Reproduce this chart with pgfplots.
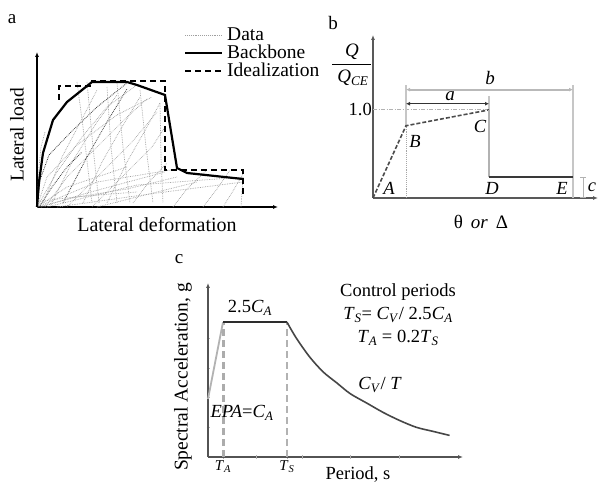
\documentclass[border=0pt]{standalone}
\usepackage{pgfplots}
\pgfplotsset{compat=1.18}
\usepackage{fontspec}
\setmainfont{Liberation Serif}
\usetikzlibrary{arrows.meta}

\newcommand{\fs}[1]{\fontsize{#1}{#1}\selectfont}
\newcommand{\sub}[1]{\textsubscript{\textit{#1}}}

\pgfplotsset{
  every axis/.append style={scale only axis, anchor=south west, clip=false,
    xtick=\empty, ytick=\empty, axis x line=bottom, axis y line=left},
  hyst/.style={gray!75, line width=0.7pt, densely dotted},
  hystdark/.style={gray!45!black, line width=0.8pt, densely dotted},
}

\begin{document}
\begin{tikzpicture}[x=1pt,y=1pt]
\path (0,0) rectangle (600,485);
\begin{pgfinterruptboundingbox}

% ---------------- (a) hysteresis data, backbone and idealization ----------
\begin{axis}[at={(37pt,278pt)}, width=241pt, height=155pt,
  xmin=0, xmax=241, ymin=0, ymax=155,
  axis line style={black, line width=1.4pt, -{Latex[length=5pt,width=4pt]}}]
% cyclic test loops
\addplot[hystdark] coordinates {(0,0) (3,27) (12,52) (33,74) (60,100) (90,124)};
\addplot[hyst] coordinates {(0,0) (10,30) (40,62) (80,92) (115,110)};
\addplot[hyst] coordinates {(0,0) (20,35) (45,70) (70,100) (100,122)};
\addplot[hyst] coordinates {(8,0) (30,30) (60,60) (90,90) (110,108)};
\addplot[hyst] coordinates {(30,0) (60,30) (95,65) (120,95)};
\addplot[hyst] coordinates {(55,0) (85,30) (115,60) (128,80)};
\addplot[hyst] coordinates {(6,4) (25,50) (45,88) (60,117)};
\addplot[hyst] coordinates {(14,2) (35,45) (60,85) (80,112)};
\addplot[hystdark] coordinates {(26,4) (50,50) (70,85) (90,118)};
\addplot[hyst] coordinates {(46,4) (65,45) (85,80) (103,110)};
\addplot[hyst] coordinates {(70,4) (90,45) (110,80) (123,104)};
\addplot[hyst] coordinates {(96,4) (112,25) (130,44)};
\addplot[hyst] coordinates {(70,120) (74,60) (80,4)};
\addplot[hyst] coordinates {(80,124) (86,60) (93,4)};
\addplot[hyst] coordinates {(103,117) (109,60) (116,4)};
\addplot[hyst] coordinates {(123,104) (124,50) (126,4)};
\addplot[hyst] coordinates {(40,125) (46,80) (55,4)};
\addplot[hyst] coordinates {(50,125) (56,60) (62,4)};
\addplot[hyst] coordinates {(0,0) (60,25) (140,38)};
\addplot[hyst] coordinates {(10,0) (100,22) (206,30)};
\addplot[hyst] coordinates {(20,0) (120,14) (206,25)};
\addplot[hyst] coordinates {(4,0) (50,14) (128,35)};
\addplot[hyst] coordinates {(0,0) (30,20) (90,40)};
\addplot[hyst] coordinates {(0,0) (40,10) (90,18) (140,30)};
\addplot[hyst] coordinates {(0,5) (20,8) (60,12) (100,15)};
\addplot[hyst] coordinates {(60,0) (100,10) (160,25)};
\addplot[hyst] coordinates {(136,0) (150,18) (170,37)};
\addplot[hyst] coordinates {(166,0) (180,18) (193,37)};
\addplot[hyst] coordinates {(186,0) (196,16) (206,33)};
\addplot[hyst] coordinates {(204,0) (205,15) (206,30)};
\addplot[hyst] coordinates {(0,0) (2,40) (4,60) (8,75)};
\addplot[hystdark] coordinates {(2,0) (15,20) (30,40) (45,55)};
% envelope of the loops
\addplot[black, line width=2.2pt] coordinates {
  (0,0) (2,25) (6,54) (16,87) (30,105) (55,125) (90,125) (100,122)
  (128,112) (140,39) (150,34) (206,28)};
% idealized multilinear curve
\addplot[black, line width=2pt, dash pattern=on 6pt off 4pt] coordinates {
  (22,107) (22,121) (55,121) (55,126) (128,126) (128,37) (206,37) (206,10)};
\end{axis}

\node[font=\fs{19}] at (12,466) {a};
\node[font=\fs{19.5}, rotate=90] at (17,350) {Lateral load};
\node[font=\fs{20}] at (157,260) {Lateral deformation};
% legend
\draw[gray!75, line width=0.9pt, densely dotted] (185,450) -- (222,450);
\draw[black, line width=2.2pt] (185,432) -- (222,432);
\draw[black, line width=2pt, dash pattern=on 6pt off 4pt] (185,414) -- (222,414);
\node[font=\fs{19.5}, anchor=west, inner sep=0pt] at (227,451) {Data};
\node[font=\fs{19.5}, anchor=west, inner sep=0pt] at (227,433) {Backbone};
\node[font=\fs{19.5}, anchor=west, inner sep=0pt] at (227,415) {Idealization};

% ---------------- (b) generalized force-deformation relation -------------
\begin{axis}[at={(373pt,287pt)}, width=225pt, height=163pt,
  xmin=0, xmax=2.25, ymin=0, ymax=1.85,
  axis line style={gray!70!black, line width=1.4pt, -{Latex[length=5pt,width=4pt]}}]
% guide lines
\addplot[gray!60, line width=0.8pt, dash pattern=on 4pt off 1.5pt on 1pt off 1.5pt]
  coordinates {(0,1.0) (1.16,1.0)};
\addplot[gray!70, line width=0.9pt, densely dotted] coordinates {(0.33,0) (0.33,0.82)};
\addplot[gray!45, line width=1.2pt] coordinates {(0.33,0.82) (0.33,1.28)};
\addplot[gray!45, line width=1.2pt] coordinates {(1.16,1.0) (1.16,1.16)};
\addplot[gray!45, line width=1.2pt] coordinates {(2.0,0) (2.0,1.28)};
% dimension arrows a and b
\addplot[gray!55, line width=1.8pt, {Latex[length=4pt,width=4pt]}-{Latex[length=4pt,width=4pt]}]
  coordinates {(0.33,1.23) (2.0,1.23)};
\addplot[gray!40!black, line width=1.4pt, {Latex[length=4pt,width=4pt]}-{Latex[length=4pt,width=4pt]}]
  coordinates {(0.33,1.07) (1.16,1.07)};
\addplot[gray!60, line width=0.8pt, |-|] coordinates {(2.1,0) (2.1,0.24)};
% backbone A-B-C-D-E
\addplot[gray!60!black, line width=1.6pt, dash pattern=on 4pt off 2pt]
  coordinates {(0,0) (0.33,0.82) (1.16,1.0)};
\addplot[gray!60, line width=2.5pt] coordinates {(1.16,1.0) (1.16,0.24)};
\addplot[gray!45!black, line width=1.4pt] coordinates {(1.16,0.24) (2.0,0.24)};
\node[font=\fs{18.5}, anchor=east, inner sep=1pt] at (axis cs:0,1.0) {1.0};
\node[font=\fs{19}\itshape] at (axis cs:1.17,1.36) {b};
\node[font=\fs{19}\itshape] at (axis cs:0.77,1.16) {a};
\node[font=\fs{18.5}\itshape] at (axis cs:1.07,0.81) {C};
\node[font=\fs{18.5}\itshape] at (axis cs:0.42,0.64) {B};
\node[font=\fs{18.5}\itshape] at (axis cs:0.16,0.11) {A};
\node[font=\fs{18.5}\itshape] at (axis cs:1.19,0.11) {D};
\node[font=\fs{18.5}\itshape] at (axis cs:1.89,0.11) {E};
\node[font=\fs{18.5}\itshape, inner sep=0pt] at (axis cs:2.19,0.12) {c};
\end{axis}

\node[font=\fs{19}] at (333,462) {b};
\node[font=\fs{19}\itshape] at (352,433) {Q};
\draw[black, line width=0.8pt] (332,421) -- (371,421);
\node[font=\fs{19}] at (353,407) {\textit{Q}\sub{CE}};
\node[font=\fs{19}] at (481,263) {θ\, \textit{or}\, Δ};

% ---------------- (c) design response spectrum ---------------------------
\begin{axis}[at={(208pt,28pt)}, width=255pt, height=174pt,
  xmin=0, xmax=3.23, ymin=0, ymax=1.29,
  axis line style={gray!65!black, line width=1.3pt, -{Latex[length=5pt,width=4pt]}},
  xtick={0.19,1}, xticklabels={\textit{T}\sub{A}, \textit{T}\sub{S}},
  extra x ticks={0.61,1.2,1.81,2.43}, extra x tick labels={},
  ytick={0.22,0.44,0.66,0.88}, yticklabels={},
  tick align=center, major tick length=3pt,
  every tick/.style={gray!60, line width=0.8pt},
  xticklabel style={font=\fs{15}, inner sep=2pt}]
% corner periods
\addplot[gray!65, line width=3pt, dash pattern=on 7pt off 4pt] coordinates {(0.19,0) (0.19,1.0)};
\addplot[gray!60, line width=1.4pt, dash pattern=on 7pt off 4pt] coordinates {(1.0,0) (1.0,1.0)};
% spectrum branches
\addplot[gray!60, line width=1.8pt] coordinates {(0,0.43) (0.19,1.0)};
\addplot[gray!35!black, line width=1.6pt] coordinates {(0.19,1.0) (1.0,1.0)};
\addplot[gray!55!black, line width=1.6pt, smooth] coordinates {
  (1.0,1.0) (1.12,0.88) (1.29,0.74) (1.46,0.63) (1.63,0.55) (1.80,0.47)
  (2.01,0.40) (2.22,0.33) (2.43,0.27) (2.64,0.22) (2.85,0.19) (3.06,0.16)};
\end{axis}

\node[font=\fs{19}] at (179,226) {c};
\node[font=\fs{19.5}, rotate=90] at (183,108) {Spectral Acceleration, g};
\node[font=\fs{18.5}, inner sep=0pt] at (358,10) {Period, s};
\node[font=\fs{18.5}] at (250,177) {2.5\textit{C}\sub{A}};
\node[font=\fs{18.5}] at (398,193) {Control periods};
\node[font=\fs{18.5}] at (398,170) {\textit{T}\sub{S}= \textit{C}\sub{V}/ 2.5\textit{C}\sub{A}};
\node[font=\fs{18.5}] at (398,147) {\textit{T}\sub{A} = 0.2\textit{T}\sub{S}};
\node[font=\fs{18.5}] at (380,100) {\textit{C}\sub{V}/ \textit{T}};
\node[font=\fs{18.5}] at (242,72) {\textit{EPA}=\textit{C}\sub{A}};
\end{pgfinterruptboundingbox}
\end{tikzpicture}
\end{document}
